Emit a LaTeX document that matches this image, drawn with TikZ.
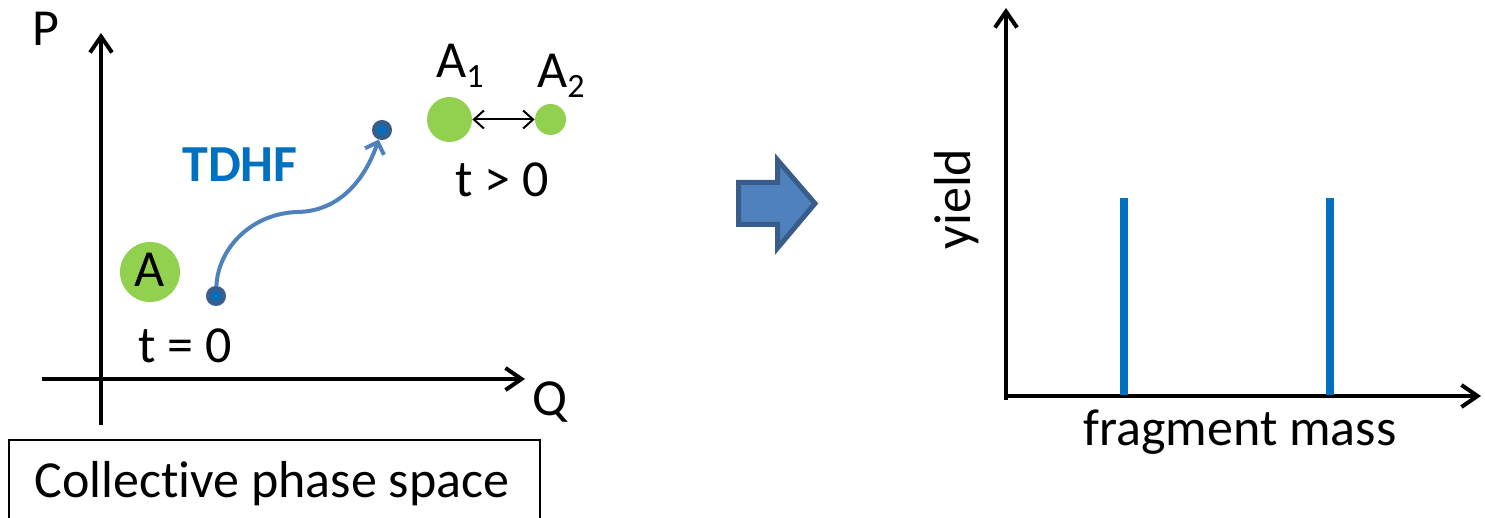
\documentclass[tikz,border=0pt]{standalone}
\usepackage{fontspec}
\setmainfont{Carlito}[Ligatures=NoCommon]
\usetikzlibrary{arrows.meta}
\definecolor{lgreen}{RGB}{146,208,80}
\definecolor{tblue}{RGB}{0,112,192}
\definecolor{cblue}{RGB}{79,129,189}
\definecolor{dblue}{RGB}{56,93,138}
\tikzset{
  lbl/.style={inner sep=0pt, anchor=base, font=\fontsize{26}{30}\selectfont},
  axis/.style={line width=2pt, -{Straight Barb[length=8pt,width=11pt]}},
  blob/.style={circle, fill=lgreen, inner sep=0pt},
  dotnode/.style={circle, fill=tblue, draw=dblue, line width=2.5pt, minimum size=7.5pt, inner sep=0pt},
  bar/.style={tblue, line width=4pt}
}
\newcommand{\subs}[1]{\raisebox{-5pt}{\fontsize{17}{20}\selectfont #1}}
\begin{document}
\begin{tikzpicture}[x=0.5pt,y=-0.5pt]
\useasboundingbox (0,0) rectangle (1485,518);
% left axes
\coordinate (pb) at (101,425);
\coordinate (pt) at (101,33);
\coordinate (ql) at (42,379);
\coordinate (qr) at (525,379);
\draw[axis] (pb) -- (pt);
\draw[axis] (ql) -- (qr);
\node[lbl] (P) at (46,46) {P};
\node[lbl] (Q) at (550,416) {Q};
% box
\draw[line width=1pt] (9,520) -- (9,440) -- (540,440) -- (540,520);
\node[lbl] (cps) at (272,497) {Collect\kern0pt ive phase space};
% A circle
\node[blob, minimum size=30pt] (A) at (150,272) {};
\node[lbl] (Alab) at (150,287) {A};
% dots and curve
\node[dotnode] (d1) at (216,296) {};
\node[dotnode] (d2) at (382,130) {};
\draw[cblue, line width=2pt, -{Straight Barb[length=5pt,width=10pt]}]
  (d1) .. controls (218,248) and (252,213) .. (298,212)
       .. controls (338,211) and (364,182) .. (d2);
\node[lbl, text=tblue, font=\fontsize{26}{30}\selectfont\bfseries] (tdhf) at (240,182) {TDHF};
\node[lbl] (t0) at (185,363) {t = 0};
% fragments
\node[blob, minimum size=22.5pt] (A1) at (449.5,119.5) {};
\node[blob, minimum size=15.5pt] (A2) at (550.5,119.5) {};
\draw[line width=1pt, {Straight Barb[length=5pt,width=9pt]}-{Straight Barb[length=5pt,width=9pt]}] (A1) -- (A2);
\node[lbl, anchor=base west] (A1lab) at (436,78) {A\subs{1}};
\node[lbl, anchor=base west] (A2lab) at (537,88) {A\subs{2}};
\node[lbl] (tg0) at (502,197) {t > 0};
% block arrow
\draw[fill=cblue, draw=dblue, line width=2.5pt, line join=miter]
  (738.5,182.5) -- (777.5,182.5) -- (777.5,160) -- (815,203.5) -- (777.5,248) -- (777.5,224.5) -- (738.5,224.5) -- cycle;
% right axes
\coordinate (yb) at (1006,400);
\coordinate (yt) at (1006,8);
\coordinate (xl) at (1004,396);
\coordinate (xr) at (1481,396);
\draw[axis] (yb) -- (yt);
\draw[axis] (xl) -- (xr);
\coordinate (b1t) at (1124,198);
\coordinate (b1b) at (1124,395);
\coordinate (b2t) at (1330,198);
\coordinate (b2b) at (1330,395);
\draw[bar] (b1b) -- (b1t);
\draw[bar] (b2b) -- (b2t);
\node[lbl, rotate=90] (yield) at (970,199) {yield};
\node[lbl] (fm) at (1240,445) {fragment mass};
\end{tikzpicture}
\end{document}
